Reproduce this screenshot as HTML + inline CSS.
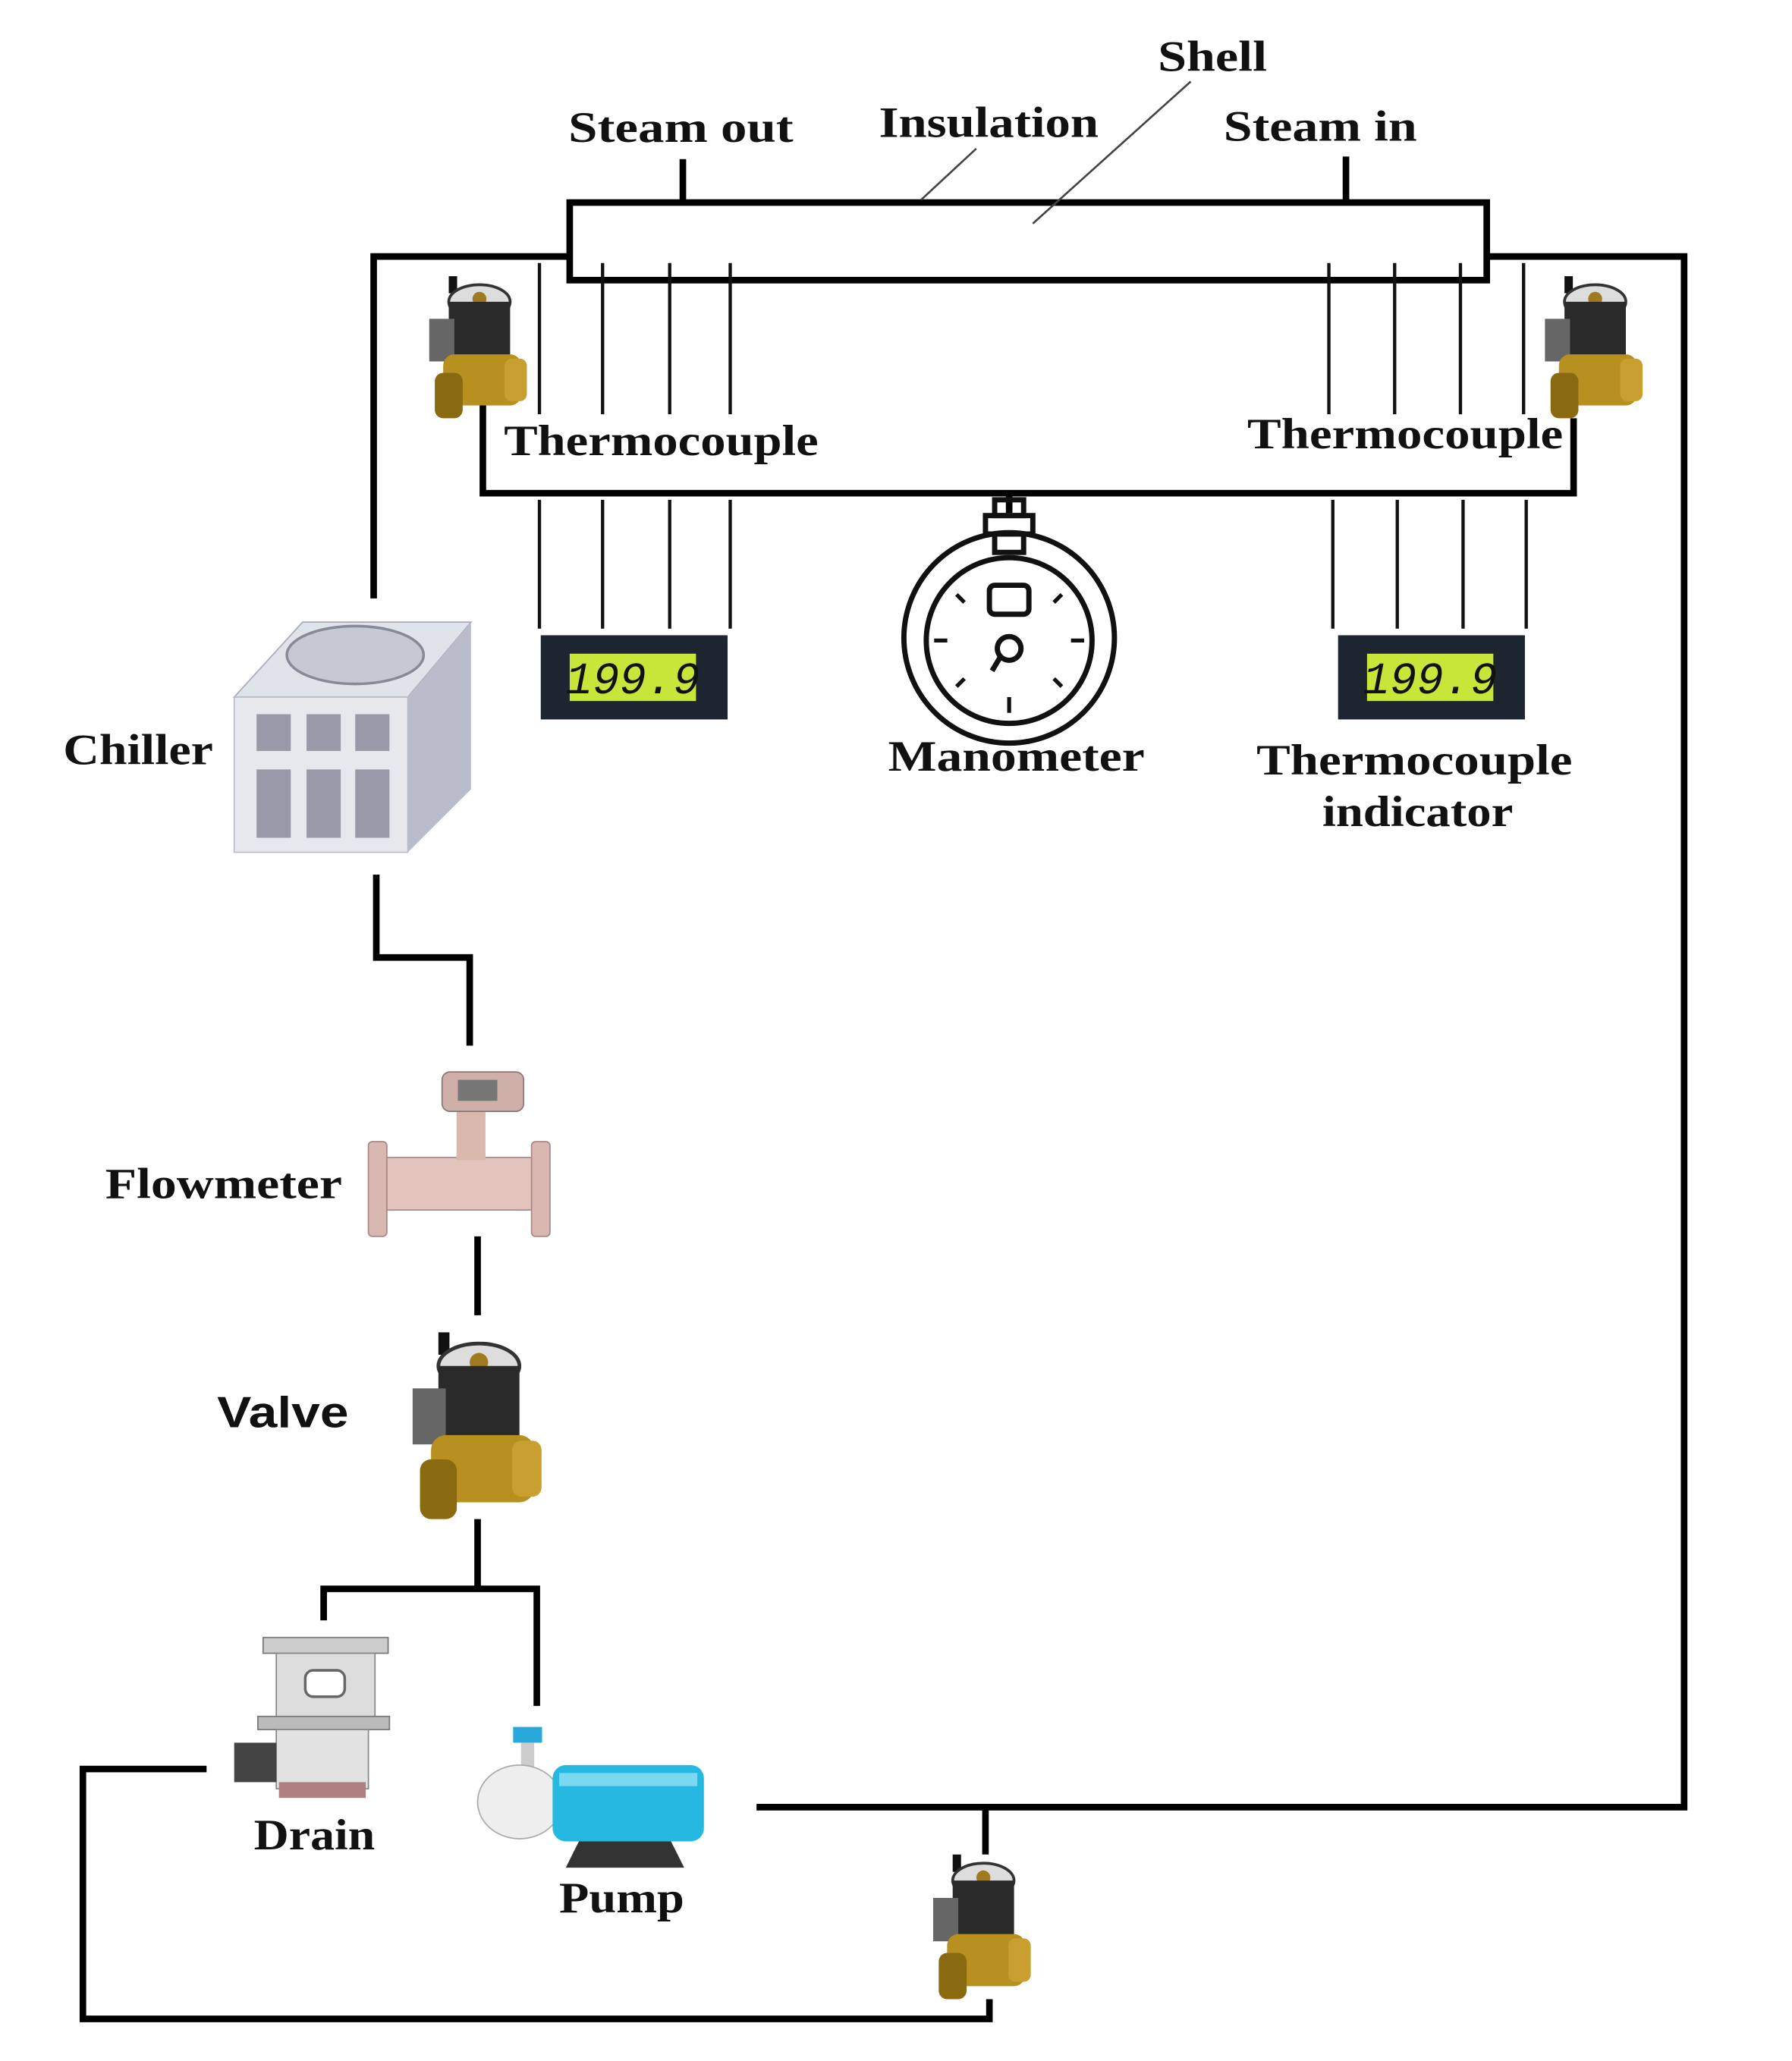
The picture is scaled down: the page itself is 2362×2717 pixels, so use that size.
<!DOCTYPE html>
<html><head><style>
html,body{margin:0;padding:0;background:#fff;}
svg{display:block;}
text{font-family:"Liberation Serif",serif;font-weight:bold;fill:#111;}
</style></head><body>
<svg width="2362" height="2717" viewBox="0 0 1362 1567" preserveAspectRatio="none" xmlns="http://www.w3.org/2000/svg">
<defs>
<g id="valve">
  <rect x="18" y="0" width="6" height="12" fill="#111"/>
  <ellipse cx="40" cy="18" rx="22" ry="12" fill="#ddd" stroke="#333" stroke-width="2"/>
  <circle cx="40" cy="16" r="5" fill="#a07a20"/>
  <rect x="18" y="18" width="44" height="40" fill="#2a2a2a"/>
  <rect x="4" y="30" width="18" height="30" fill="#666"/>
  <rect x="14" y="55" width="56" height="36" rx="8" fill="#b8901f"/>
  <rect x="8" y="68" width="20" height="32" rx="6" fill="#8a6a10"/>
  <rect x="58" y="58" width="16" height="30" rx="5" fill="#c9a030"/>
</g>
<g id="disp">
  <rect x="0" y="0" width="142" height="64" fill="#1d2530"/>
  <rect x="22" y="14" width="96" height="36" fill="#c8e63a"/>
  <text x="70" y="44" text-anchor="middle" style="font-family:'Liberation Mono',monospace;font-size:34px;font-weight:normal;fill:#111;font-style:italic">199.9</text>
</g>
</defs>
<g fill="none" stroke="#000" stroke-width="5">
  <rect x="433" y="154" width="697" height="59"/>
  <line x1="519" y1="121" x2="519" y2="154"/>
  <line x1="1023" y1="119" x2="1023" y2="154"/>
  <polyline points="284,455 284,195 433,195"/>
  <polyline points="1130,195 1280,195 1280,1374 575,1374"/>
  <polyline points="367,300 367,375 1196,375 1196,318"/>
  <polyline points="286,665 286,728 357,728 357,795"/>
  <line x1="363" y1="940" x2="363" y2="1000"/>
  <line x1="363" y1="1155" x2="363" y2="1208"/>
  <polyline points="246,1232 246,1208 408,1208 408,1297"/>
  <polyline points="157,1345 63,1345 63,1535 752,1535 752,1520"/>
  <line x1="749" y1="1374" x2="749" y2="1410"/>
  <line x1="767" y1="375" x2="767" y2="390"/>
</g>
<g stroke="#111" stroke-width="2.5">
  <line x1="410" y1="200" x2="410" y2="315"/><line x1="458" y1="200" x2="458" y2="315"/>
  <line x1="509" y1="200" x2="509" y2="315"/><line x1="555" y1="200" x2="555" y2="315"/>
  <line x1="1010" y1="200" x2="1010" y2="315"/><line x1="1060" y1="200" x2="1060" y2="315"/>
  <line x1="1110" y1="200" x2="1110" y2="315"/><line x1="1158" y1="200" x2="1158" y2="315"/>
  <line x1="410" y1="380" x2="410" y2="478"/><line x1="458" y1="380" x2="458" y2="478"/>
  <line x1="509" y1="380" x2="509" y2="478"/><line x1="555" y1="380" x2="555" y2="478"/>
  <line x1="1013" y1="380" x2="1013" y2="478"/><line x1="1062" y1="380" x2="1062" y2="478"/>
  <line x1="1112" y1="380" x2="1112" y2="478"/><line x1="1160" y1="380" x2="1160" y2="478"/>
  <line x1="742" y1="113" x2="700" y2="152" stroke="#444" stroke-width="1.5"/>
  <line x1="905" y1="62" x2="785" y2="170" stroke="#444" stroke-width="1.5"/>
</g>
<use href="#valve" transform="translate(322,210) scale(1.06,1.08)"/>
<use href="#valve" transform="translate(1170,210) scale(1.06,1.08)"/>
<use href="#valve" transform="translate(705,1410) scale(1.06,1.1)"/>
<use href="#valve" transform="translate(308,1013) scale(1.4,1.42)"/>
<use href="#disp" x="411" y="483"/>
<use href="#disp" x="1017" y="483"/>
<!-- manometer -->
<g fill="none" stroke="#111" stroke-width="4">
  <rect x="756" y="380" width="22" height="12"/>
  <rect x="749" y="392" width="36" height="14"/>
  <rect x="756" y="406" width="22" height="14"/>
  <circle cx="767" cy="485" r="80"/>
  <circle cx="767" cy="487" r="63"/>
  <rect x="752" y="445" width="30" height="22" rx="4"/>
  <circle cx="767" cy="493" r="9"/>
  <line x1="760" y1="500" x2="754" y2="510"/>
</g>
<g stroke="#111" stroke-width="3">
  <line x1="710" y1="487" x2="720" y2="487"/><line x1="814" y1="487" x2="824" y2="487"/>
  <line x1="767" y1="530" x2="767" y2="542"/><line x1="727" y1="522" x2="733" y2="516"/>
  <line x1="807" y1="522" x2="801" y2="516"/><line x1="727" y1="452" x2="733" y2="458"/>
  <line x1="807" y1="452" x2="801" y2="458"/>
</g>
<!-- chiller -->
<polygon points="178,530 230,473 358,473 310,530" fill="#dfe3ea" stroke="#aab" stroke-width="1"/>
<polygon points="310,530 358,473 358,600 310,648" fill="#b9bccb"/>
<rect x="178" y="530" width="132" height="118" fill="#e6e8ee" stroke="#bbc" stroke-width="1"/>
<ellipse cx="270" cy="498" rx="52" ry="22" fill="#c5c9d3" stroke="#889" stroke-width="2"/>
<g fill="#99a">
  <rect x="195" y="543" width="26" height="28"/><rect x="233" y="543" width="26" height="28"/><rect x="270" y="543" width="26" height="28"/>
  <rect x="195" y="585" width="26" height="52"/><rect x="233" y="585" width="26" height="52"/><rect x="270" y="585" width="26" height="52"/>
</g>
<!-- flowmeter -->
<rect x="290" y="880" width="118" height="40" rx="6" fill="#e2c4bc" stroke="#a88" stroke-width="1"/>
<rect x="280" y="868" width="14" height="72" rx="3" fill="#d8b8b0" stroke="#a88"/>
<rect x="404" y="868" width="14" height="72" rx="3" fill="#d8b8b0" stroke="#a88"/>
<rect x="347" y="840" width="22" height="42" fill="#d9b8ae"/>
<rect x="336" y="815" width="62" height="30" rx="6" fill="#cfb0a8" stroke="#877" stroke-width="1"/>
<rect x="348" y="821" width="30" height="16" fill="#777"/>
<!-- drain -->
<rect x="200" y="1245" width="95" height="12" fill="#ccc" stroke="#777"/>
<rect x="210" y="1257" width="75" height="50" fill="#ddd" stroke="#888"/>
<rect x="232" y="1270" width="30" height="20" rx="6" fill="#fff" stroke="#666" stroke-width="2"/>
<rect x="196" y="1305" width="100" height="10" fill="#bbb" stroke="#777"/>
<rect x="210" y="1315" width="70" height="45" fill="#e2e2e2" stroke="#888"/>
<rect x="178" y="1325" width="32" height="30" fill="#444"/>
<rect x="212" y="1355" width="66" height="12" fill="#b08080"/>
<!-- pump -->
<rect x="390" y="1313" width="22" height="12" fill="#29a9d9"/>
<rect x="396" y="1325" width="10" height="25" fill="#ccc"/>
<ellipse cx="395" cy="1370" rx="32" ry="28" fill="#eee" stroke="#aaa"/>
<rect x="420" y="1342" width="115" height="58" rx="10" fill="#25b8e0"/>
<rect x="425" y="1348" width="105" height="10" fill="#7ad8f0"/>
<polygon points="440,1400 510,1400 520,1420 430,1420" fill="#333"/>
<!-- labels -->
<g font-size="33">
<text x="432" y="108" textLength="171" lengthAdjust="spacingAndGlyphs">Steam out</text>
<text x="668" y="104" textLength="167" lengthAdjust="spacingAndGlyphs">Insulation</text>
<text x="880" y="54" textLength="83" lengthAdjust="spacingAndGlyphs">Shell</text>
<text x="930" y="107" textLength="147" lengthAdjust="spacingAndGlyphs">Steam in</text>
<text x="383" y="346" textLength="239" lengthAdjust="spacingAndGlyphs">Thermocouple</text>
<text x="948" y="341" textLength="240" lengthAdjust="spacingAndGlyphs">Thermocouple</text>
<text x="675" y="586" textLength="195" lengthAdjust="spacingAndGlyphs">Manometer</text>
<text x="955" y="589" textLength="240" lengthAdjust="spacingAndGlyphs">Thermocouple</text>
<text x="1005" y="628" textLength="145" lengthAdjust="spacingAndGlyphs">indicator</text>
<text x="48" y="581" textLength="114" lengthAdjust="spacingAndGlyphs">Chiller</text>
<text x="80" y="911" textLength="180" lengthAdjust="spacingAndGlyphs">Flowmeter</text>
<text x="165" y="1085" textLength="100" lengthAdjust="spacingAndGlyphs" style="font-family:'Liberation Sans',sans-serif">Valve</text>
<text x="193" y="1406" textLength="92" lengthAdjust="spacingAndGlyphs">Drain</text>
<text x="425" y="1454" textLength="95" lengthAdjust="spacingAndGlyphs">Pump</text>
</g>
</svg>
</body></html>
